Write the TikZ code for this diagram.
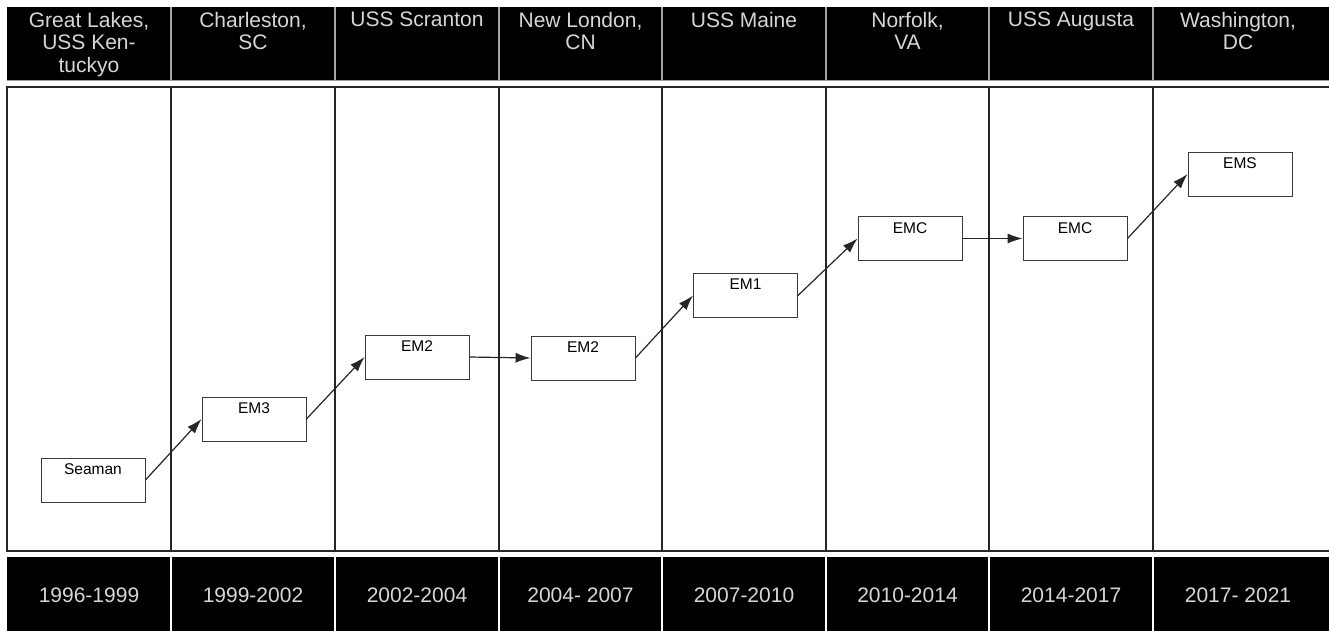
\documentclass[tikz,border=0pt]{standalone}
\usepackage{fontspec}
\setmainfont{Liberation Sans}
\usetikzlibrary{arrows.meta}
\definecolor{bandtext}{HTML}{D6D6D6}
\definecolor{boxline}{HTML}{3A3A3A}
\begin{document}
\begin{tikzpicture}[x=1pt,y=-1pt,
  hdr/.style={anchor=north,align=center,text=bandtext,font=\fontsize{21}{22.4}\selectfont,inner sep=0pt},
  ftr/.style={anchor=center,text=bandtext,font=\fontsize{21}{24}\selectfont,inner sep=0pt},
  rank/.style={draw=boxline,line width=0.9pt,fill=white,minimum width=104pt,minimum height=44pt,inner sep=0pt},
  rlab/.style={anchor=north,yshift=-6pt,font=\fontsize{15.5}{18}\selectfont,inner sep=0pt},
  arr/.style={line width=1.2pt,draw=black!85,-{Latex[length=15pt,width=10pt]}},
  hdiv/.style={draw=black!35,line width=1.3pt},
  fdiv/.style={draw=white,line width=1.8pt},
  bline/.style={draw=black!85,line width=1.1pt}]
\useasboundingbox (0,0) rectangle (1329,631);
\fill[white] (0,0) rectangle (1329,631);
% header band
\fill[black] (7,7) rectangle (1329,81);
\draw[draw=black!40,line width=0.8pt] (7,80.5) -- (1329,80.5);
\foreach \x in {171,335,499,662,826,989,1153} {\draw[hdiv] (\x,7) -- (\x,81);}
% body
\draw[bline] (1329,87) -- (7,87) -- (7,551) -- (1329,551);
\foreach \x in {171,335,499,662,826,989,1153} {\draw[bline] (\x,87) -- (\x,551);}
% footer band
\fill[black] (7,557) rectangle (1329,631);
\foreach \x in {171,335,499,662,826,989,1153} {\draw[fdiv] (\x,557) -- (\x,631);}
% header texts
\node[hdr] (h1) at (89,12) {Great Lakes,\\USS Ken-\\tuckyo};
\node[hdr] (h2) at (253,12) {Charleston,\\SC};
\node[hdr] (h3) at (417,12) {USS Scranton};
\node[hdr] (h4) at (580.5,12) {New London,\\CN};
\node[hdr] (h5) at (744,12) {USS Maine};
\node[hdr] (h6) at (907.5,12) {Norfolk,\\VA};
\node[hdr] (h7) at (1071,12) {USS Augusta};
\node[hdr] (h8) at (1238,12) {Washington,\\DC};
% footer texts
\node[ftr] (f1) at (89,595) {1996-1999};
\node[ftr] (f2) at (253,595) {1999-2002};
\node[ftr] (f3) at (417,595) {2002-2004};
\node[ftr] (f4) at (580.5,595) {2004- 2007};
\node[ftr] (f5) at (744,595) {2007-2010};
\node[ftr] (f6) at (907.5,595) {2010-2014};
\node[ftr] (f7) at (1071,595) {2014-2017};
\node[ftr] (f8) at (1238,595) {2017- 2021};
% rank boxes
\node[rank,label={[rlab]north:Seaman}] (sea) at (93,480) {};
\node[rank,label={[rlab]north:EM3}] (em3) at (254,419) {};
\node[rank,label={[rlab]north:EM2}] (em2a) at (417,357) {};
\node[rank,label={[rlab]north:EM2}] (em2b) at (583,358) {};
\node[rank,label={[rlab]north:EM1}] (em1) at (745.5,295.5) {};
\node[rank,label={[rlab]north:EMC}] (emc1) at (910,238.5) {};
\node[rank,label={[rlab]north:EMC}] (emc2) at (1075,238.5) {};
\node[rank,label={[rlab]north:EMS}] (ems) at (1240,174) {};
% arrows
\draw[arr] (sea.east) -- (em3.west);
\draw[arr] (em3.east) -- (em2a.west);
\draw[arr] (em2a.east) -- (em2b.west);
\draw[arr] (em2b.east) -- (em1.west);
\draw[arr] (em1.east) -- (emc1.west);
\draw[arr] (emc1.east) -- (emc2.west);
\draw[arr] (emc2.east) -- (ems.west);
\end{tikzpicture}
\end{document}
